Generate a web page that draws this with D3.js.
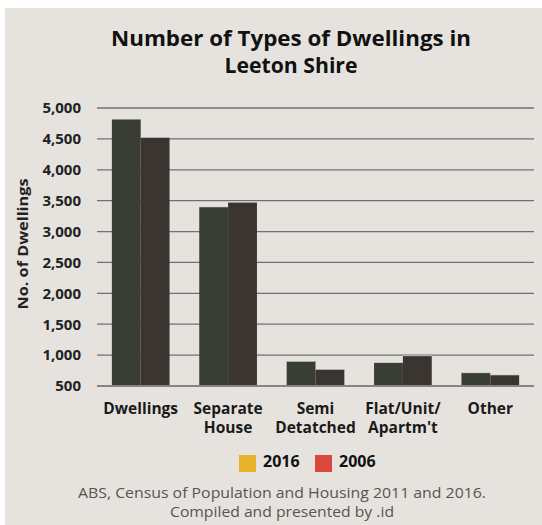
<!DOCTYPE html>
<html>
<head>
<meta charset="utf-8">
<script src="https://cdn.jsdelivr.net/npm/d3@7"></script>
<style>
  body { margin: 0; background: #fff; }
  text { font-family: "Open Sans", "Noto Sans", sans-serif; }
</style>
</head>
<body>
<div id="chart"></div>
<script>
// values
var categories = ["Dwellings", "Separate House", "Semi Detatched", "Flat/Unit/ Apartm't", "Other"];
var catLines = [["Dwellings"], ["Separate", "House"], ["Semi", "Detatched"], ["Flat/Unit/", "Apartm't"], ["Other"]];
var years = ["2016", "2006"];
var values2016 = [4820, 3400, 900, 880, 715];
var values2006 = [4525, 3475, 770, 990, 680];
var yTicks = [500, 1000, 1500, 2000, 2500, 3000, 3500, 4000, 4500, 5000];

var width = 542, height = 525;
var barColor = {"2016": "#3a3d33", "2006": "#3b3532"};
var legendColor = {"2016": "#e8b22b", "2006": "#d9483a"};

var svg = d3.select("#chart").append("svg")
    .attr("width", width)
    .attr("height", height);

// panel background
svg.append("rect")
    .attr("x", 5).attr("y", 8)
    .attr("width", width - 5).attr("height", height - 8)
    .attr("fill", "#e6e3de");

// title (text in the original is a little wide, so stretch it)
svg.append("text")
    .attr("x", 291).attr("y", 46)
    .attr("text-anchor", "middle")
    .attr("font-size", 20.5).attr("font-weight", "bold").attr("fill", "#111")
    .attr("textLength", 360).attr("lengthAdjust", "spacingAndGlyphs")
    .text("Number of Types of Dwellings in");
svg.append("text")
    .attr("x", 291).attr("y", 73)
    .attr("text-anchor", "middle")
    .attr("font-size", 20.5).attr("font-weight", "bold").attr("fill", "#111")
    .attr("textLength", 133).attr("lengthAdjust", "spacingAndGlyphs")
    .text("Leeton Shire");

var x0 = d3.scaleBand()
    .domain(categories)
    .range([97, 534])
    .paddingInner(0.34)
    .paddingOuter(0.17);

var x1 = d3.scaleBand()
    .domain(years)
    .range([0, x0.bandwidth()]);

var y = d3.scaleLinear([500, 5000], [386, 108]);

// gridlines
svg.append("g")
    .selectAll("line")
    .data(yTicks.slice(1))
    .join("line")
    .attr("x1", 97).attr("x2", 534)
    .attr("y1", d => y(d)).attr("y2", d => y(d))
    .attr("stroke", "#707070")
    .attr("stroke-width", 1.3);

// y tick labels
svg.append("g")
    .attr("transform", "translate(81,0)")
    .call(d3.axisLeft(y).tickValues(yTicks).tickSize(0).tickPadding(0).tickFormat(d3.format(",")))
    .call(g => g.select(".domain").remove())
    .call(g => g.selectAll("text")
        .attr("font-size", 15)
        .attr("font-weight", "bold")
        .attr("fill", "#222")
        .attr("font-family", "'Open Sans', 'Noto Sans', sans-serif"));

// y axis title
svg.append("text")
    .attr("transform", "translate(28,244) rotate(-90)")
    .attr("text-anchor", "middle")
    .attr("font-size", 14.5).attr("font-weight", "bold").attr("fill", "#222")
    .attr("textLength", 131).attr("lengthAdjust", "spacingAndGlyphs")
    .text("No. of Dwellings");

// bars
var rows = categories.map((c, i) => ({cat: c, vals: [
    {year: "2016", value: values2016[i]},
    {year: "2006", value: values2006[i]}
]}));

svg.append("g")
    .selectAll("g")
    .data(rows)
    .join("g")
    .attr("transform", d => `translate(${x0(d.cat)},0)`)
    .selectAll("rect")
    .data(d => d.vals)
    .join("rect")
    .attr("x", d => x1(d.year))
    .attr("y", d => y(d.value))
    .attr("width", x1.bandwidth())
    .attr("height", d => y(500) - y(d.value))
    .attr("fill", d => barColor[d.year])
    .attr("stroke", "#f4f2ee")
    .attr("stroke-width", 0.6)
    .attr("stroke-dasharray", d => `${x1.bandwidth()},${2 * (y(500) - y(d.value)) + x1.bandwidth()}`);

// baseline
svg.append("line")
    .attr("x1", 97).attr("x2", 534)
    .attr("y1", y(500)).attr("y2", y(500))
    .attr("stroke", "#858585")
    .attr("stroke-width", 2);

// x labels
var xl = svg.append("g")
    .selectAll("text")
    .data(categories)
    .join("text")
    .attr("x", d => x0(d) + x0.bandwidth() / 2)
    .attr("y", 414)
    .attr("text-anchor", "middle")
    .attr("font-size", 15.5).attr("font-weight", "bold").attr("fill", "#1a1a1a");
xl.selectAll("tspan")
    .data((d, i) => catLines[i])
    .join("tspan")
    .attr("x", function() { return d3.select(this.parentNode).attr("x"); })
    .attr("dy", (d, i) => i === 0 ? 0 : 19)
    .text(d => d);

// legend
var legX = [239, 315];
var leg = svg.append("g")
    .selectAll("g")
    .data(years)
    .join("g")
    .attr("transform", (d, i) => `translate(${legX[i]},455)`);
leg.append("rect")
    .attr("width", 17).attr("height", 17)
    .attr("fill", d => legendColor[d]);
leg.append("text")
    .attr("x", 24).attr("y", 12)
    .attr("font-size", 16).attr("font-weight", "bold").attr("fill", "#111")
    .text(d => d);

// source
svg.append("text")
    .attr("x", 282).attr("y", 498)
    .attr("text-anchor", "middle")
    .attr("font-size", 14).attr("fill", "#555")
    .attr("textLength", 408).attr("lengthAdjust", "spacingAndGlyphs")
    .text("ABS, Census of Population and Housing 2011 and 2016.");
svg.append("text")
    .attr("x", 282).attr("y", 517)
    .attr("text-anchor", "middle")
    .attr("font-size", 14).attr("fill", "#555")
    .attr("textLength", 224).attr("lengthAdjust", "spacingAndGlyphs")
    .text("Compiled and presented by .id");
</script>
</body>
</html>
